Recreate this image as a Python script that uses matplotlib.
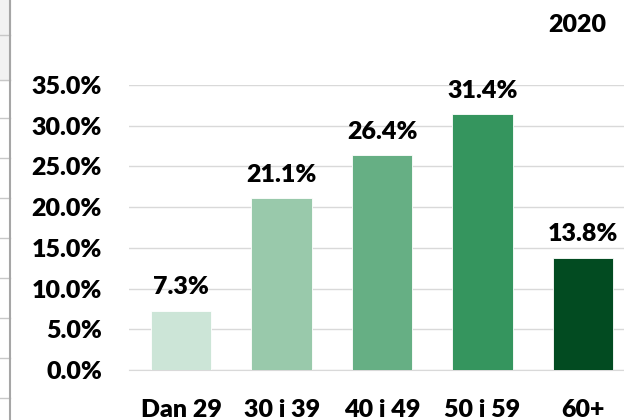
import matplotlib.pyplot as plt
from matplotlib.patches import Rectangle
from matplotlib.lines import Line2D
from matplotlib.ticker import PercentFormatter

categories = ["Dan 29", "30 i 39", "40 i 49", "50 i 59", "60+"]
shares = [0.073, 0.211, 0.264, 0.314, 0.138]
bar_colors = ["#cce5d7", "#99c9ab", "#66af84", "#35955e", "#024b21"]
year = "2020"

plt.rcParams["font.family"] = ["Lato", "DejaVu Sans"]
FS = 18
WEIGHT = "heavy"

W, H = 624, 420
fig = plt.figure(figsize=(W / 100, H / 100), dpi=100)

# plot area in pixels: left 129, right 633, top 85, bottom 370
ax = fig.add_axes([129 / W, 1 - 370 / H, (633 - 129) / W, (370 - 85) / H])
x = range(len(categories))
bars = ax.bar(x, shares, width=0.6, color=bar_colors, edgecolor="white", linewidth=0.6, zorder=3)

ax.set_xlim(-0.52, 4.5)
ax.set_ylim(0, 0.35)
ax.set_yticks([i * 0.05 for i in range(8)])
ax.yaxis.set_major_formatter(PercentFormatter(1.0, decimals=1))
ax.grid(axis="y", color="#d9d9d9", linewidth=1, zorder=0)
for s in ["top", "right", "left"]:
    ax.spines[s].set_visible(False)
ax.spines["bottom"].set_color("#d9d9d9")
ax.tick_params(axis="both", length=0, labelsize=FS, colors="black")
ax.tick_params(axis="y", pad=19.5)
ax.tick_params(axis="x", pad=21)
ax.set_xticks(list(x))
ax.set_xticklabels(categories)
for lbl in ax.get_xticklabels() + ax.get_yticklabels():
    lbl.set_fontweight(WEIGHT)

for b, v in zip(bars, shares):
    ax.annotate(f"{v * 100:.1f}%", (b.get_x() + b.get_width() / 2, v),
                xytext=(0, 9), textcoords="offset points",
                ha="center", va="bottom", fontsize=FS, fontweight=WEIGHT)

fig.text(577 / W, 1 - 25 / H, year, ha="center", va="center", fontsize=FS, fontweight=WEIGHT)

# spreadsheet cells visible at the left edge
fig.patches.append(Rectangle((0, 1 - 80 / H), 9.5 / W, 80 / H, transform=fig.transFigure,
                             color="#f2f2f2", zorder=0))
for yy in [35, 80, 118, 158, 198, 238, 278, 318, 358, 398]:
    fig.lines.append(Line2D([0, 9.5 / W], [1 - yy / H] * 2, transform=fig.transFigure,
                            color="#c8c8c8", linewidth=1))
fig.lines.append(Line2D([9.5 / W] * 2, [0, 1], transform=fig.transFigure,
                        color="#a6a6a6", linewidth=1.5))

fig.savefig("out.png", dpi=100)
